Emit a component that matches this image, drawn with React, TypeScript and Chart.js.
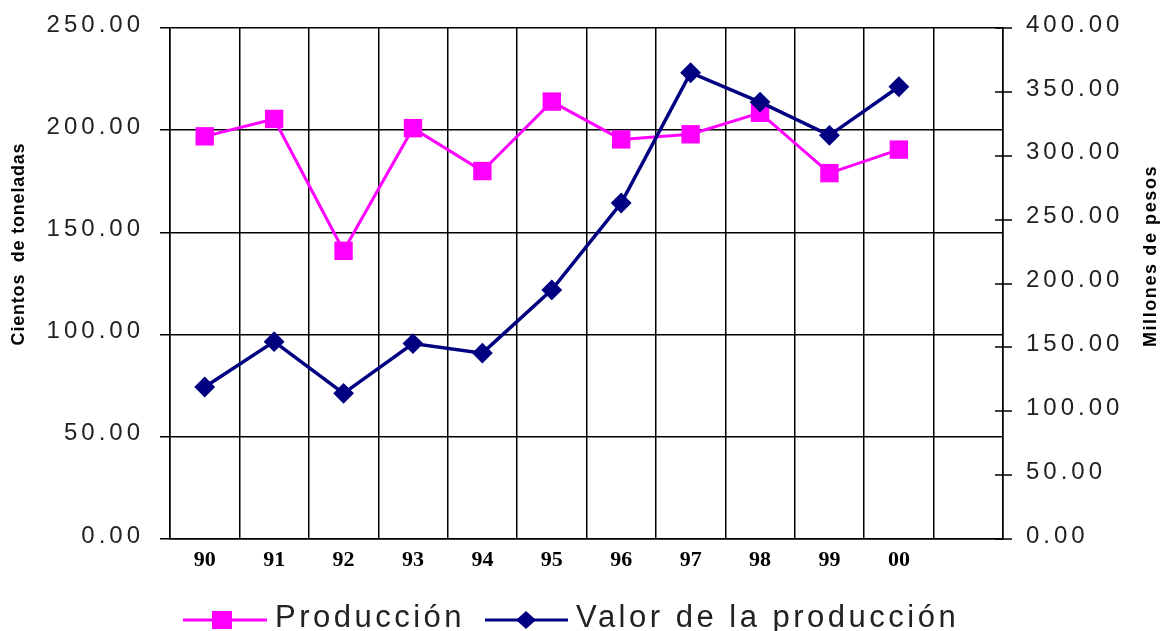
import React, { useEffect, useRef } from 'react';
import { Chart, registerables } from 'chart.js';

Chart.register(...registerables);

const years = ['90', '91', '92', '93', '94', '95', '96', '97', '98', '99', '00', ''];
const produccion = [197, 205.5, 141, 201, 180, 214, 195.5, 198, 208.5, 179, 190.5];
const valorProduccion = [119, 154.5, 114, 153, 145.5, 195, 263, 365, 342, 316, 354];
const leftTicks = [0, 50, 100, 150, 200, 250];
const rightTicks = [0, 50, 100, 150, 200, 250, 300, 350, 400];
const leftTitle = 'Cientos  de toneladas';
const rightTitle = 'Millones de pesos';
const seriesNames = ['Producción', 'Valor de la producción'];

const PINK = '#FF00FF';
const NAVY = '#000080';
const TEXT = '#222222';

const overlayPlugin = {
  id: 'overlay',
  afterDraw(chart: any) {
    const ctx = chart.ctx as CanvasRenderingContext2D;
    const area = chart.chartArea;
    const ys = chart.scales.y;
    const y1 = chart.scales.y1;
    const xs = chart.scales.x;
    ctx.save();

    // right axis crossing tick marks
    ctx.strokeStyle = '#000';
    ctx.lineWidth = 1.5;
    ctx.beginPath();
    rightTicks.forEach((v) => {
      const y = Math.round(y1.getPixelForValue(v));
      ctx.moveTo(area.right - 8, y);
      ctx.lineTo(area.right + 9, y);
    });
    ctx.stroke();

    // tick labels
    (ctx as any).letterSpacing = '4px';
    ctx.fillStyle = TEXT;
    ctx.font = '24px "Liberation Sans", Arial, sans-serif';
    ctx.textBaseline = 'middle';
    ctx.textAlign = 'right';
    leftTicks.forEach((v) => {
      ctx.fillText(v.toFixed(2), area.left - 30 + 4, ys.getPixelForValue(v) - 3);
    });
    ctx.textAlign = 'left';
    rightTicks.forEach((v) => {
      ctx.fillText(v.toFixed(2), area.right + 23, y1.getPixelForValue(v) - 3);
    });

    // x labels
    (ctx as any).letterSpacing = '0px';
    ctx.font = 'bold 22px "Liberation Serif", "Times New Roman", serif';
    ctx.fillStyle = '#000';
    ctx.textAlign = 'center';
    years.forEach((lab, i) => {
      if (lab) ctx.fillText(lab, xs.getPixelForValue(i), area.bottom + 21);
    });

    // axis titles
    ctx.font = 'bold 18px "Liberation Sans", Arial, sans-serif';
    ctx.textBaseline = 'middle';
    ctx.textAlign = 'center';
    (ctx as any).letterSpacing = '0.8px';
    ctx.save();
    ctx.translate(19, 244);
    ctx.rotate(-Math.PI / 2);
    ctx.fillText(leftTitle, 0, 0);
    ctx.restore();
    (ctx as any).letterSpacing = '1.6px';
    ctx.save();
    ctx.translate(1151, 256);
    ctx.rotate(-Math.PI / 2);
    ctx.fillText(rightTitle, 0, 0);
    ctx.restore();

    // legend
    const ly = 620;
    ctx.lineWidth = 3;
    ctx.strokeStyle = PINK;
    ctx.beginPath();
    ctx.moveTo(183, ly);
    ctx.lineTo(267, ly);
    ctx.stroke();
    ctx.fillStyle = PINK;
    ctx.fillRect(222 - 10, ly - 9, 20, 18);

    ctx.strokeStyle = NAVY;
    ctx.lineWidth = 3;
    ctx.beginPath();
    ctx.moveTo(485, ly);
    ctx.lineTo(568, ly);
    ctx.stroke();
    ctx.fillStyle = NAVY;
    ctx.beginPath();
    ctx.moveTo(526 - 10, ly);
    ctx.lineTo(526, ly - 9);
    ctx.lineTo(526 + 10, ly);
    ctx.lineTo(526, ly + 9);
    ctx.closePath();
    ctx.fill();

    ctx.fillStyle = TEXT;
    ctx.font = '31px "Liberation Sans", Arial, sans-serif';
    ctx.textAlign = 'left';
    ctx.textBaseline = 'alphabetic';
    (ctx as any).letterSpacing = '3.5px';
    ctx.fillText(seriesNames[0], 275, 627);
    ctx.fillText(seriesNames[1], 576, 627);

    ctx.restore();
  },
};

export default function App() {
  const ref = useRef<HTMLCanvasElement>(null);

  useEffect(() => {
    if (!ref.current) return;
    const chart = new Chart(ref.current, {
      type: 'line',
      data: {
        labels: years,
        datasets: [
          {
            label: seriesNames[0],
            data: produccion,
            yAxisID: 'y',
            borderColor: PINK,
            backgroundColor: PINK,
            borderWidth: 3,
            pointStyle: 'rect',
            pointRadius: 13,
            pointBorderWidth: 0,
            pointBackgroundColor: PINK,
            tension: 0,
            order: 1,
          },
          {
            label: seriesNames[1],
            data: valorProduccion,
            yAxisID: 'y1',
            borderColor: NAVY,
            backgroundColor: NAVY,
            borderWidth: 3.5,
            pointStyle: 'rectRot',
            pointRadius: 9,
            pointBorderWidth: 2,
            pointBorderColor: NAVY,
            pointBackgroundColor: NAVY,
            tension: 0,
            order: 0,
          },
        ],
      },
      options: {
        responsive: false,
        animation: false,
        devicePixelRatio: 1,
        layout: { padding: { left: 170, right: 158, top: 28, bottom: 0 } },
        plugins: {
          legend: { display: false },
          tooltip: { enabled: false },
          title: { display: false },
        },
        scales: {
          x: {
            type: 'category',
            offset: true,
            grid: { offset: true, color: '#000', lineWidth: 1.5, drawTicks: false },
            border: { display: true, color: '#000', width: 1.5 },
            ticks: { display: false },
            afterFit: (s: any) => {
              s.height = 631 - 539;
            },
          },
          y: {
            position: 'left',
            min: 0,
            max: 250,
            ticks: { display: false, stepSize: 50 },
            grid: { color: '#000', lineWidth: 1.5, drawTicks: true, tickLength: 10 },
            border: { display: true, color: '#000', width: 1.5 },
            afterFit: (s: any) => {
              s.width = 0;
            },
          },
          y1: {
            position: 'right',
            min: 0,
            max: 400,
            ticks: { display: false, stepSize: 50 },
            grid: { drawOnChartArea: false, drawTicks: false },
            border: { display: true, color: '#000', width: 1.5 },
            afterFit: (s: any) => {
              s.width = 0;
            },
          },
        },
      },
      plugins: [overlayPlugin],
    });
    return () => chart.destroy();
  }, []);

  return (
    <div style={{ position: 'absolute', left: 0, top: 0, width: 1161, height: 631, background: '#fff' }}>
      <canvas ref={ref} width={1161} height={631} style={{ width: 1161, height: 631 }} />
    </div>
  );
}
